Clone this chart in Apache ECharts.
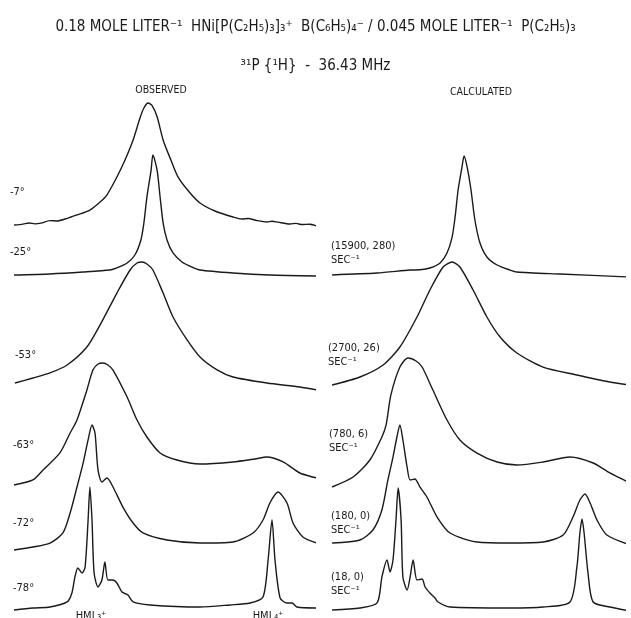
<!DOCTYPE html>
<html>
<head>
<meta charset="utf-8">
<title>31P{1H} spectra</title>
<script src="https://cdn.jsdelivr.net/npm/echarts@6/dist/echarts.min.js"></script>
<style>
  html, body { margin: 0; padding: 0; background: #fff; }
  #chart { width: 631px; height: 618px; }
</style>
</head>
<body>
<div id="chart"></div>
<script>
// Spectra as [relative shift, normalized intensity] pairs
const obs7 = [[0,0.8],[3,1.6],[5,2.5],[7,1.8],[9,2.4],[12,4.5],[14.5,4.2],[17,5.8],[19,7.5],[21,9.2],[25.3,13.3],[28.7,20],[31,26],[34.3,40.8],[37,55],[39.7,71.7],[42,90],[43.3,98.3],[44.7,102.5],[46,100.5],[47.7,91],[49.7,71.7],[52.3,55],[54.7,40.8],[58.7,27.5],[62,19.2],[67,12.5],[73,7.5],[76,5.8],[78,6.3],[81,4.5],[84.3,3.3],[86,4],[88,3.2],[92,1.7],[94,2.2],[96,1.2],[98.5,1.5],[101,0]];
const obs25 = [[0,0.8],[12,1.7],[23,3.3],[32,5],[34.3,6.7],[37.7,10.8],[40.3,17.5],[42.3,30],[43.3,44.2],[44.3,65.8],[45.7,88.3],[46.3,100.8],[47.7,88.3],[48.7,65.8],[49.7,44.2],[51,30],[53,19.2],[56,11.7],[59.3,7.5],[62,5],[73,2.5],[85.3,0.8],[101,0]];
const obs53 = [[0.3,5.8],[6.3,10],[12,14.2],[17.7,20.8],[24.3,35.8],[28.7,54.2],[34.3,80.8],[38.7,100],[41,105.8],[42.7,106.7],[44.3,105],[46.3,100],[49.7,80.8],[53,60.8],[57.7,41.7],[62,27.5],[67.7,16.7],[73,10.8],[84.3,5.8],[95.3,2.5],[101,0]];
const obs63 = [[0,0],[6.3,4.2],[9.7,12.5],[15.3,26.7],[18.7,43.3],[21,54.2],[24.3,79.2],[26.3,95.8],[28,100.8],[29.7,101.7],[31.3,100],[33,95.8],[37.7,73.3],[41,54.2],[44.3,40],[48.7,26.7],[54.3,20.8],[62,17.5],[73,19.2],[80.3,21.7],[84.3,23.3],[89.7,19.2],[95.3,10],[101,5.8]];
const obs72 = [[0,0],[6.3,2.5],[12,5.8],[16.3,14.2],[18.7,30.8],[21,52.5],[23,72],[24.7,91.7],[26,104.2],[27,97.5],[28,66.7],[29.3,56.7],[31,60],[33,52.5],[36.3,35.8],[39.7,22.5],[43,14.2],[51,8.3],[62,5.8],[73,6.7],[79.7,14.2],[83,25],[85.3,39.2],[88,48.3],[91,39.2],[93,22.5],[96.3,10.8],[101,5.8]];
const obs78 = [[0,0],[6.3,1.7],[12,2.5],[17.7,6.7],[19.3,14.2],[20.3,27.5],[21.3,35],[22.7,30.8],[23.7,35.8],[24.7,75],[25.3,102.5],[26,75],[26.7,30.8],[28,19.2],[29.3,25],[30.3,40],[31.3,25],[33,25],[34.3,22.5],[36,15],[38,12.5],[39.7,6.7],[45.3,4.2],[62,2.5],[72,4.2],[78.7,5.8],[83,10.8],[84.7,41.7],[86,75],[87,41.7],[88.7,10],[91,5.8],[92.7,5.8],[94.3,2.5],[101,1.7]];

const calc25 = [[2.7,1.7],[17.7,3.3],[28.7,5.8],[32,6],[35.3,7.5],[38.7,11.7],[41,20],[42.7,33.3],[43.7,50],[44.7,72.5],[46,91.7],[46.7,100.8],[47.7,91.7],[49,72.5],[50.3,47.5],[52,28.3],[54.3,16.7],[57.7,10],[62,5.8],[64.3,4.2],[78.7,2.5],[102,0]];
const calc53 = [[2.7,0.8],[12,7.5],[19.7,17.5],[25.3,32.5],[31,57.5],[35.3,80],[39.7,99.2],[42.7,103.3],[45.3,99.2],[49.7,80],[54.3,57.5],[58.7,40.8],[64.3,27.5],[73,15.8],[84.3,9.2],[95.3,3.3],[102,0.8]];
const calc63 = [[2.7,0],[9.7,8.3],[15.3,22.5],[19.3,41.7],[20.7,51.7],[22.3,76.7],[25.3,100],[28,107.5],[30.7,105],[32.7,100],[36.3,80.8],[41,55.8],[45.3,39.2],[51,28.3],[57.7,20.8],[64.3,18.3],[73,20.8],[82,25],[89.7,20],[95.3,11.7],[102,3.3]];
const calc72 = [[2.7,1.7],[12,4.2],[16.3,12.5],[19.3,29.2],[21.3,54.2],[23,73.3],[24.3,90],[25.3,100],[26.3,87.5],[27.7,65],[28.7,54.2],[30.3,55],[32,48.3],[34.3,40],[37.7,23.3],[42,10],[51,2.5],[62,1.7],[73,2.5],[79.7,8.3],[83,23.3],[85.3,37.5],[87,42.5],[88.7,35],[91,20.8],[94.3,8.3],[102,0]];
const calc78 = [[2.7,0.8],[12,2.5],[17.7,6.7],[19.3,28.3],[21,42.5],[22,32.5],[23,42.5],[24,75.8],[24.7,102.5],[25.7,75.8],[26.3,28.3],[27.7,17.5],[28.7,28.3],[29.7,42.5],[31,25.8],[32.7,26.7],[33.7,20],[35.3,15],[37,10.8],[38,7.5],[42,3.3],[62,2.5],[73,3.3],[82,7.5],[84.3,36.7],[85.3,65],[86,76.7],[86.7,65],[88,31.7],[89.7,7.5],[95.3,3.3],[102,0]];

const obsTemps = ['-7°', '-25°', '-53°', '-63°', '-72°', '-78°'];
const calcRates = ['(15900, 280)', '(2700, 26)', '(780, 6)', '(180, 0)', '(18, 0)'];
const rateUnit = 'SEC⁻¹';
const peakNames = ['HML₃⁺', 'HML₄⁺'];

const titleLine1 = '0.18 MOLE LITER⁻¹  HNi[P(C₂H₅)₃]₃⁺  B(C₆H₅)₄⁻ / 0.045 MOLE LITER⁻¹  P(C₂H₅)₃';
const titleLine2 = '³¹P {¹H}  -  36.43 MHz';
const columnTitles = ['OBSERVED', 'CALCULATED'];

const FONT = "'DejaVu Sans Condensed', 'Liberation Sans Narrow', 'DejaVu Sans', sans-serif";
const INK = '#1a1a1a';

// trace layout: column and baseline (pixel row) of each panel
const panels = [
  { data: obs7,  col: 0, base: 226 },
  { data: obs25, col: 0, base: 276 },
  { data: obs53, col: 0, base: 390 },
  { data: obs63, col: 0, base: 485 },
  { data: obs72, col: 0, base: 550 },
  { data: obs78, col: 0, base: 610 },
  { data: calc25, col: 1, base: 277 },
  { data: calc53, col: 1, base: 386 },
  { data: calc63, col: 1, base: 487 },
  { data: calc72, col: 1, base: 545 },
  { data: calc78, col: 1, base: 611 }
];
const colLeft = [14, 324];
const PANEL_W = 300, PANEL_H = 120;

const grid = [], xAxis = [], yAxis = [], series = [];
panels.forEach((p, i) => {
  grid.push({ left: colLeft[p.col], top: p.base - PANEL_H, width: PANEL_W, height: PANEL_H });
  xAxis.push({ type: 'value', gridIndex: i, min: 0, max: 100, show: false });
  yAxis.push({ type: 'value', gridIndex: i, min: 0, max: 100, show: false });
  series.push({
    type: 'line', xAxisIndex: i, yAxisIndex: i, data: p.data,
    showSymbol: false, smooth: 0.25, clip: false, silent: true,
    lineStyle: { color: INK, width: 1.4 }
  });
});

function label(text, x, y, size, align) {
  return {
    type: 'text', x: x, y: y, silent: true,
    style: { text: text, fontSize: size, fontFamily: FONT, fill: INK, align: align || 'left', verticalAlign: 'middle' }
  };
}

const graphics = [];
const tempY = [192, 252, 355, 445, 523, 588];
const tempX = [10, 10, 15, 13, 13, 13];
obsTemps.forEach((t, i) => graphics.push(label(t, tempX[i], tempY[i], 11)));
const rateY = [246, 348, 434, 516, 577];
const rateX = [331, 328, 329, 331, 331];
calcRates.forEach((r, i) => {
  graphics.push(label(r, rateX[i], rateY[i], 11));
  graphics.push(label(rateUnit, rateX[i], rateY[i] + 14, 11));
});
graphics.push(label(peakNames[0], 91, 616, 11, 'center'));
graphics.push(label(peakNames[1], 268, 616, 11, 'center'));
graphics.push(label(columnTitles[0], 161, 90, 10.5, 'center'));
graphics.push(label(columnTitles[1], 481, 92, 10.5, 'center'));

const chart = echarts.init(document.getElementById('chart'), null, { renderer: 'canvas' });
chart.setOption({
  backgroundColor: '#ffffff',
  animation: false,
  title: [
    { text: titleLine1, left: 'center', top: 15, textStyle: { fontSize: 15, fontWeight: 'normal', fontFamily: FONT, color: INK } },
    { text: titleLine2, left: 'center', top: 54, textStyle: { fontSize: 15, fontWeight: 'normal', fontFamily: FONT, color: INK } }
  ],
  grid: grid,
  xAxis: xAxis,
  yAxis: yAxis,
  series: series,
  graphic: graphics
});
</script>
</body>
</html>
